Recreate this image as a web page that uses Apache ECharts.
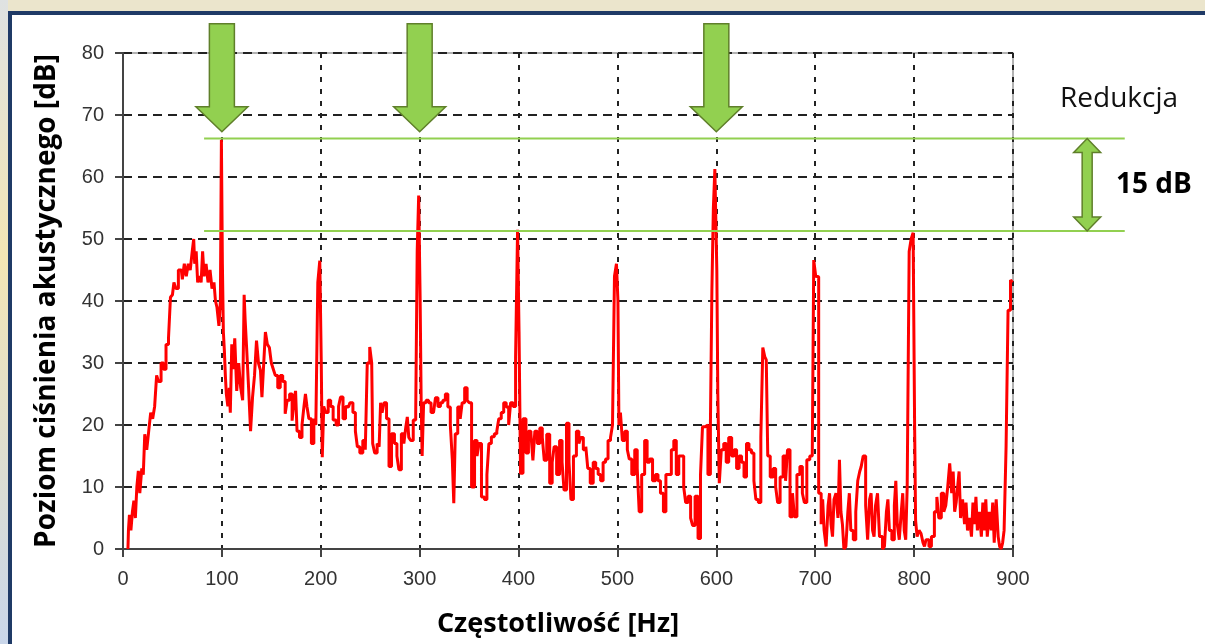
<!DOCTYPE html>
<html lang="pl">
<head>
<meta charset="UTF-8">
<title>Widmo</title>
<script src="https://cdn.jsdelivr.net/npm/echarts@6/dist/echarts.min.js"></script>
<style>
html, body { margin: 0; padding: 0; background: #fff; }
#main { width: 1205px; height: 644px; }
</style>
</head>
<body>
<div id="main"></div>
<script>
// widmo: czestotliwosc [Hz] i poziom [dB]
var freqs = [
    5, 6, 7, 9, 10, 12, 13, 15, 16, 18,
    20, 21, 23, 25, 27, 29, 31, 33, 35, 37,
    40, 42, 45, 47, 49, 51, 52, 55, 57, 59,
    61, 63, 65, 67, 69, 71, 72, 73, 75, 76,
    78, 80, 81, 83, 85, 87, 89, 91, 93, 94,
    96, 98, 99, 100, 101, 102, 103, 104, 105, 107,
    108, 109, 111, 112, 114, 116, 118, 120, 122, 123,
    124, 126, 128, 130, 132, 134, 136, 138, 140, 141,
    143, 145, 147, 149, 151, 153, 155, 158, 160, 163,
    165, 167, 170, 172, 174, 175, 177, 180, 182, 184,
    185, 187, 189, 192, 194, 196, 198, 200, 201, 202,
    204, 206, 209, 211, 214, 217, 219, 221, 224, 226,
    228, 231, 234, 236, 238, 241, 244, 246, 248, 251,
    252, 253, 256, 258, 260, 261, 263, 265, 268, 270,
    273, 276, 278, 280, 283, 285, 287, 288, 290, 292,
    295, 297, 298, 300, 301, 302, 303, 305, 308, 310,
    313, 315, 317, 320, 322, 325, 327, 330, 332, 334,
    335, 337, 340, 342, 344, 347, 349, 351, 354, 357,
    359, 361, 364, 367, 369, 371, 374, 377, 379, 381,
    384, 386, 389, 391, 393, 396, 398, 400, 401, 403,
    406, 409, 411, 414, 415, 418, 420, 423, 425, 427,
    430, 433, 435, 437, 440, 443, 445, 447, 450, 452,
    454, 457, 460, 462, 464, 467, 469, 471, 474, 477,
    479, 482, 484, 487, 489, 492, 494, 496, 498, 500,
    501, 502, 504, 506, 509, 511, 513, 516, 519, 521,
    523, 526, 529, 531, 534, 537, 540, 542, 545, 548,
    550, 553, 556, 558, 561, 563, 566, 568, 570, 573,
    575, 577, 580, 583, 585, 587, 590, 593, 595, 596,
    598, 599, 600, 601, 602, 604, 606, 609, 611, 614,
    617, 619, 622, 624, 627, 629, 632, 634, 637, 639,
    641, 644, 646, 648, 650, 651, 653, 656, 659, 661,
    663, 666, 669, 671, 673, 676, 678, 680, 683, 686,
    688, 690, 693, 696, 698, 699, 700, 701, 702, 705,
    707, 708, 710, 712, 714, 715, 717, 718, 720, 722,
    724, 725, 727, 728, 730, 732, 734, 735, 737, 740,
    742, 744, 746, 747, 750, 752, 754, 756, 757, 759,
    760, 762, 764, 766, 767, 769, 771, 773, 774, 776,
    779, 781, 782, 784, 786, 788, 789, 791, 792, 794,
    796, 798, 800, 801, 802, 804, 806, 808, 810, 811,
    813, 814, 816, 819, 822, 824, 826, 829, 831, 833,
    835, 837, 839, 840, 842, 843, 845, 846, 848, 850,
    852, 853, 855, 857, 859, 860, 862, 863, 865, 867,
    869, 870, 872, 873, 875, 877, 879, 880, 882, 884,
    886, 887, 889, 890, 892, 894, 896, 899, 900
];
var levels = [
    0, 3, 5.5, 3, 6, 7.8, 5, 10, 12.6, 9,
    13, 12, 18.5, 16, 19, 22, 21, 23, 28, 27,
    30, 29, 33, 34, 40.6, 41, 43, 42, 45, 45,
    43.5, 46, 44, 46, 45, 48, 50, 46, 48, 43,
    44, 43, 48, 44, 46, 43, 45, 42, 43, 40,
    39, 36, 40, 66, 46, 35, 32, 28, 25, 23,
    26, 22, 33, 29, 34, 25.5, 30, 26, 24, 41,
    37, 32.5, 26, 19, 24.5, 28, 33.6, 30, 28.8, 24.5,
    29, 35, 33, 32.5, 30, 29, 28, 26, 28, 27,
    21.8, 24, 25, 20.7, 24, 25.5, 19, 18, 20, 23,
    25, 23, 21, 17, 21, 20, 43, 46.5, 30, 14.8,
    23, 22, 24, 23, 20.8, 20, 23, 24.5, 21, 23,
    22.9, 23.6, 22, 19, 16.5, 15.5, 17.5, 16, 30, 32.6,
    30, 17, 15.5, 17, 16.5, 23.6, 22, 23.6, 21, 13.3,
    18.6, 17, 15, 12.8, 18.6, 17, 19.7, 21.3, 18, 17.5,
    20.8, 22, 48, 57, 40, 24, 15, 23.6, 24, 23.6,
    22, 22, 24.4, 23, 23.6, 24, 25, 22.9, 20, 14.5,
    7.4, 18.6, 22.9, 21, 23.6, 26, 24, 23.6, 10, 17.5,
    15, 17, 8.4, 8, 12, 17, 18.1, 18.6, 19, 21,
    22, 23.6, 22.9, 20, 23.6, 23, 31, 51.5, 35, 12.2,
    21, 15.5, 19, 18.6, 14.3, 19, 17, 19.5, 18, 14.3,
    18.5, 10.6, 14, 16.5, 12, 17.5, 14, 9.5, 20.3, 14,
    8, 15, 19, 17, 18, 16, 16.5, 13, 10.6, 14,
    13, 12, 11, 14, 14.5, 17.5, 18, 20, 44, 46,
    40, 20, 22, 17.5, 19, 16, 14.5, 12, 16, 13,
    6, 12, 17.5, 14, 14.5, 11, 12, 11, 9, 6,
    12, 12, 16, 17.5, 12, 15, 15, 10, 7.5, 8.5,
    5, 3.8, 8.5, 1.7, 12, 19.7, 20, 12, 20, 41.7,
    55, 61.3, 61, 45, 25, 10.6, 16, 17, 14, 18,
    15, 16, 13, 15, 14, 11.6, 17, 16, 15.5, 11,
    8, 7.5, 18, 32.5, 31, 30.5, 15, 11.6, 13, 10,
    7.5, 11.6, 15, 11, 16, 5.2, 9, 5.2, 12, 13.3,
    9, 7.5, 14.4, 15, 15, 46.6, 46.5, 44, 43.9, 9,
    4, 8, 3, 0.4, 7, 9, 4, 2, 8, 9,
    5, 14.4, 6, 4, 0, 0.4, 6, 9, 3, 1.5,
    6, 11, 12.5, 13.3, 15, 7, 1.5, 8, 9, 3,
    2, 7, 9, 2, 2, 0, 0.4, 6, 8, 3,
    1.5, 7, 11, 4, 1.5, 6, 9, 3, 1.5, 10,
    48, 50, 51, 20, 4.6, 2, 3, 2.5, 1, 0.4,
    1.5, 1.5, 0.4, 2, 6, 8.4, 5, 9, 6, 7,
    10, 13.8, 9, 12.5, 6, 7.5, 10, 12.5, 5, 8,
    4, 7.5, 3, 5, 2, 7.5, 4, 8.4, 3, 6,
    2, 7.5, 3, 8, 2, 6, 3, 7.5, 1, 8,
    2, 0.4, 0, 1, 3, 16.5, 38.5, 43.4, 43
];

// adnotacje
var arrowFreqs = [100, 300, 600];   // strzalki nad pikami
var arrowTipLevel = 67.3;
var refLevels = [66.2, 51.3];       // poziomy przed/po redukcji
var refLineFrom = 82;
var refLineTo = 1013;
var doubleArrowFreq = 975;

var chart = echarts.init(document.getElementById('main'));

var data = freqs.map(function (f, i) { return [f, levels[i]]; });

var tickFont = {
    fontFamily: 'Liberation Sans, Arial, sans-serif',
    fontSize: 20,
    color: '#333'
};

var option = {
    backgroundColor: '#fff',
    animation: false,
    grid: {
        left: 123, right: 192, top: 53, bottom: 95,
        show: true,
        borderColor: '#999',
        borderWidth: 1.5
    },
    xAxis: {
        type: 'value',
        min: 0, max: 900, interval: 100,
        name: 'Częstotliwość [Hz]',
        nameLocation: 'middle',
        nameGap: 62,
        nameTextStyle: { fontFamily: 'Open Sans', fontWeight: 'bold', fontSize: 27, color: '#000', padding: [0, 20, 0, 0] },
        axisLine: { lineStyle: { color: '#444', width: 2 } },
        axisTick: { length: 8, lineStyle: { color: '#444', width: 2 } },
        axisLabel: Object.assign({ margin: 20 }, tickFont),
        splitLine: { lineStyle: { color: '#222', width: 2, type: [5, 7] } }
    },
    yAxis: {
        type: 'value',
        min: 0, max: 80, interval: 10,
        name: 'Poziom ciśnienia akustycznego [dB]',
        nameLocation: 'middle',
        nameGap: 62,
        nameTextStyle: { fontFamily: 'Open Sans', fontWeight: 'bold', fontSize: 28, color: '#000' },
        axisLine: { show: true, lineStyle: { color: '#444', width: 2 } },
        axisTick: { show: true, length: 8, lineStyle: { color: '#444', width: 2 } },
        axisLabel: Object.assign({ margin: 19 }, tickFont),
        splitLine: { lineStyle: { color: '#222', width: 2, type: [9, 6] } }
    },
    series: [{
        type: 'line',
        data: data,
        step: 'middle',
        symbol: 'none',
        lineStyle: { color: '#ff0000', width: 3 },
        z: 3
    }]
};

chart.setOption(option);

// strzalki i linie poziomu, pozycje z osi wykresu
var px = function (f, v) { return chart.convertToPixel({ gridIndex: 0 }, [f, v]); };
var green = '#92d050', greenDark = '#5f7f2a';
var g = [];

g.push({ type: 'rect', shape: { x: 0, y: 0, width: 1205, height: 12 }, style: { fill: '#ebe5cc' }, silent: true });
g.push({
    type: 'rect', shape: { x: 0, y: 0, width: 8, height: 644 }, silent: true,
    style: { fill: new echarts.graphic.LinearGradient(0, 0, 0, 1, [
        { offset: 0, color: '#dfe2e2' }, { offset: 0.4, color: '#f3e6b5' }, { offset: 1, color: '#c9d6ea' }
    ]) }
});
g.push({ type: 'rect', shape: { x: 8, y: 11, width: 1197, height: 4 }, style: { fill: '#1f3a66' }, silent: true });
g.push({ type: 'rect', shape: { x: 8, y: 11, width: 4, height: 633 }, style: { fill: '#1f3a66' }, silent: true });

refLevels.forEach(function (lv) {
    var a = px(refLineFrom, lv), b = px(refLineTo, lv);
    g.push({ type: 'line', shape: { x1: a[0], y1: a[1], x2: b[0], y2: b[1] },
        style: { stroke: green, lineWidth: 2 }, z: 10 });
});

arrowFreqs.forEach(function (f) {
    var t = px(f, arrowTipLevel);
    var pts = [[-12.5, -108], [12.5, -108], [12.5, -25], [26, -25], [0, 0], [-26, -25], [-12.5, -25]];
    g.push({ type: 'polygon', shape: { points: pts.map(function (p) { return [t[0] + p[0], t[1] + p[1]]; }) },
        style: { fill: green, stroke: greenDark, lineWidth: 1.5 }, z: 11 });
});

var upper = px(doubleArrowFreq, refLevels[0]), lower = px(doubleArrowFreq, refLevels[1]);
var cx = upper[0], y1 = upper[1], y2 = lower[1];
g.push({ type: 'polygon', shape: { points: [
    [cx, y1], [cx + 13.5, y1 + 14], [cx + 5, y1 + 14], [cx + 5, y2 - 14], [cx + 13.5, y2 - 14],
    [cx, y2], [cx - 13.5, y2 - 14], [cx - 5, y2 - 14], [cx - 5, y1 + 14], [cx - 13.5, y1 + 14]
] }, style: { fill: green, stroke: greenDark, lineWidth: 1.5 }, z: 11 });

g.push({ type: 'text', x: 1060, y: 99, style: { text: 'Redukcja', fontFamily: 'Open Sans', fontSize: 28,
    fill: '#111', verticalAlign: 'middle' }, z: 12 });
g.push({ type: 'text', x: 1116, y: 185, style: { text: '15 dB', fontFamily: 'Open Sans', fontWeight: 'bold', fontSize: 28,
    fill: '#000', verticalAlign: 'middle' }, z: 12 });

chart.setOption({ graphic: g });
</script>
</body>
</html>
